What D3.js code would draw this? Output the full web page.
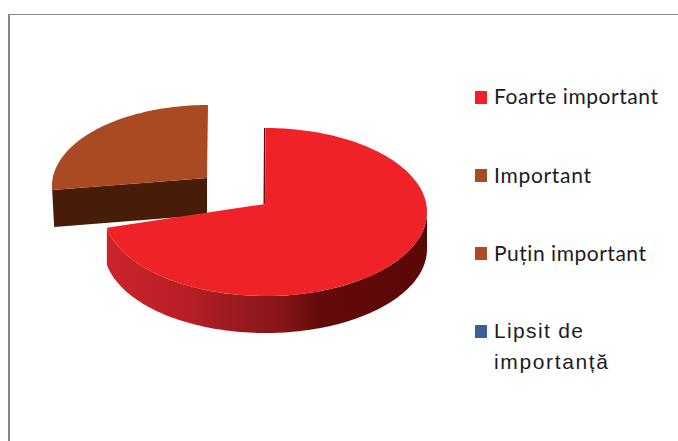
<!DOCTYPE html>
<html>
<head>
<meta charset="utf-8">
<script src="https://cdn.jsdelivr.net/npm/d3@7"></script>
<style>
    html, body { margin: 0; padding: 0; background: #fff; }
    svg { display: block; }
    text { fill: #1c1c1c; }
</style>
</head>
<body>
<div id="chart"></div>
<script>
const categories = ["Foarte important", "Important", "Puțin important", "Lipsit de importanță"];
const values = [72, 28, 0, 0];
const colors = ["#ee2227", "#a94a22", "#b04a22", "#38609a"];
const sideColors = ["#c8242c", "#471d0a", "#471d0a", "#1f3557"];

const width = 678, height = 441;
const depth = 37;

const svg = d3.select("#chart").append("svg")
    .attr("width", width)
    .attr("height", height);

// frame, only top and left sides show
svg.append("line")
    .attr("x1", 8).attr("x2", width)
    .attr("y1", 14.5).attr("y2", 14.5)
    .attr("stroke", "#888")
    .attr("stroke-width", 1);
svg.append("line")
    .attr("x1", 9).attr("x2", 9)
    .attr("y1", 14).attr("y2", height)
    .attr("stroke", "#888")
    .attr("stroke-width", 2);

const color = d3.scaleOrdinal().domain(categories).range(colors);
const sideColor = d3.scaleOrdinal().domain(categories).range(sideColors);

const slices = d3.pie().sort(null).value(d => d.value)(
    categories.map((name, i) => ({ name, value: values[i] }))
);

// the tilted ellipse of each visible slice, the exploded one sits apart and is a bit smaller
const shapes = {
    "Foarte important": { cx: 265.5, cy: 212, rx: 161.5, ry: 84, ax: 265, ay: 204, startFix: 0 },
    "Important": { cx: 208, cy: 186, rx: 156, ry: 81, ax: 207, ay: 178, startFix: 0.14 }
};

const rimPoint = (s, a) => [s.cx + s.rx * Math.sin(a), s.cy - s.ry * Math.cos(a)];
const anglesBetween = (a0, a1) => d3.range(0, 121).map(i => a0 + (a1 - a0) * i / 120);
const line = d3.line();

const defs = svg.append("defs");
const grad = defs.append("linearGradient")
    .attr("id", "redSide")
    .attr("gradientUnits", "userSpaceOnUse")
    .attr("x1", 108).attr("x2", 427)
    .attr("y1", 0).attr("y2", 0);
[[0, "#cc242c"], [0.25, "#b81f25"], [0.4, "#9a1b20"], [0.55, "#851619"], [0.66, "#640a0a"], [1, "#5a0807"]]
    .forEach(([o, c]) => grad.append("stop").attr("offset", o).attr("stop-color", c));

// exploded slice goes first so the big one covers its side wall
const visible = slices.filter(d => d.value > 0).reverse();

visible.forEach(d => {
    const name = d.data.name;
    const s = shapes[name];
    const angles = anglesBetween(d.startAngle + s.startFix, d.endAngle);
    const rim = angles.map(a => rimPoint(s, a));
    const apex = [s.ax, s.ay];

    if (name === "Important") {
        // flat cut face looking at the viewer
        const edge = rim[0];
        svg.append("path")
            .attr("d", line([edge, apex, [apex[0], apex[1] + depth], [edge[0] + 2, edge[1] + depth]]) + "Z")
            .attr("fill", sideColor(name));
    } else {
        // round outer wall, only the front half
        const front = anglesBetween(Math.PI / 2, d.endAngle).map(a => rimPoint(s, a));
        const lower = front.map(p => [p[0], p[1] + depth]).reverse();
        svg.append("path")
            .attr("d", line(front.concat(lower)) + "Z")
            .attr("fill", "url(#redSide)");
        // thin sliver of the cut face beside the gap
        svg.append("path")
            .attr("d", line([[rim[0][0] - 0.8, rim[0][1]], [apex[0] - 0.8, apex[1]]]))
            .attr("stroke", "#6b0b0b")
            .attr("stroke-width", 1.4)
            .attr("fill", "none");
    }

    svg.append("path")
        .attr("d", line([apex].concat(rim)) + "Z")
        .attr("fill", color(name));
});

// legend
const legendSquares = [91, 169, 247, 325];
const legendLines = [
    [{ text: "Foarte important", y: 104, w: 164, font: "Lato" }],
    [{ text: "Important", y: 183, w: 97, font: "Lato" }],
    [{ text: "Puțin important", y: 261, w: 152, font: "Lato" }],
    [{ text: "Lipsit de", y: 338, w: 89, font: "Liberation Sans" }, { text: "importanță", y: 369, w: 114, font: "Liberation Sans" }]
];

categories.forEach((name, i) => {
    svg.append("rect")
        .attr("x", 475).attr("y", legendSquares[i])
        .attr("width", 12).attr("height", 13)
        .attr("fill", color(name));
    legendLines[i].forEach(l => {
        svg.append("text")
            .attr("x", 494).attr("y", l.y)
            .attr("font-family", l.font)
            .attr("font-size", 21)
            .attr("textLength", l.w)
            .attr("lengthAdjust", "spacing")
            .text(l.text);
    });
});
</script>
</body>
</html>
